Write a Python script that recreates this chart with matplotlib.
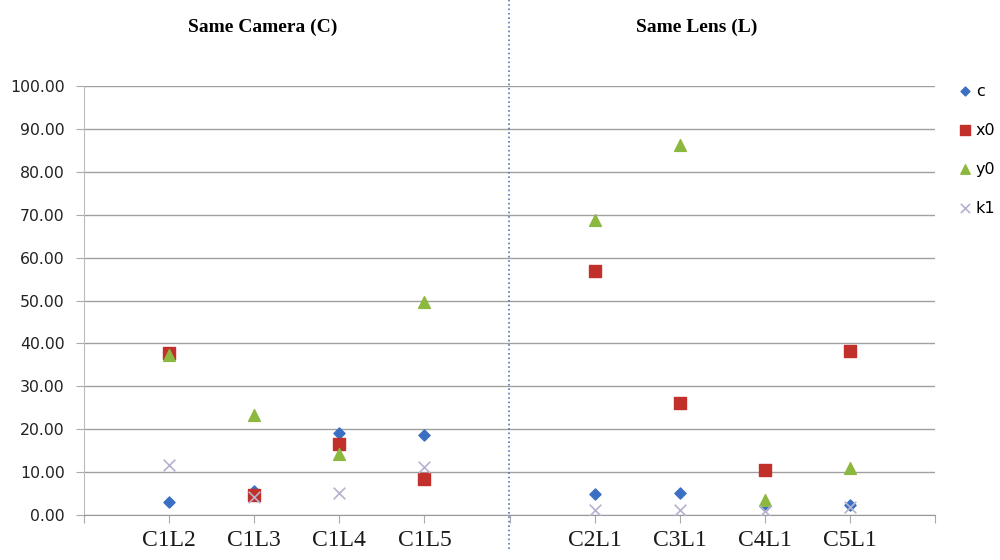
import numpy as np
import matplotlib.pyplot as plt
from matplotlib.lines import Line2D

# categories (two groups, gap slot in the middle)
cats_camera = ["C1L2", "C1L3", "C1L4", "C1L5"]
cats_lens = ["C2L1", "C3L1", "C4L1", "C5L1"]
categories = cats_camera + cats_lens
xpos = [1, 2, 3, 4, 6, 7, 8, 9]

# values
c_vals = [3.0, 5.7, 19.1, 18.6, 4.9, 5.1, 2.2, 2.3]
x0_vals = [37.7, 4.7, 16.6, 8.3, 57.0, 26.1, 10.5, 38.2]
y0_vals = [37.4, 23.2, 14.2, 49.7, 68.9, 86.2, 3.5, 11.0]
k1_vals = [11.7, 4.1, 5.1, 11.1, 1.2, 1.2, 1.0, 1.8]

yticks = np.arange(0, 101, 10)

fig = plt.figure(figsize=(10, 5.6), dpi=100)
ax = fig.add_axes([0.084, 0.0804, 0.851, 0.7657])

ax.scatter(xpos, c_vals, marker="D", s=32, color="#3A6FC4", label="c", zorder=3)
ax.scatter(xpos, x0_vals, marker="s", s=68, color="#C2302C", label="x0", zorder=3)
ax.scatter(xpos, y0_vals, marker="^", s=72, color="#8DB83F", label="y0", zorder=3)
ax.scatter(xpos, k1_vals, marker="x", s=70, color="#B4B2D0", linewidths=1.2,
           label="k1", zorder=3)

ax.set_xlim(0, 10)
ax.set_ylim(0, 100)
ax.set_yticks(yticks)
ax.set_yticklabels([f"{v:.2f}" for v in yticks], fontsize=11.3, color="#222222")
ax.set_xticks(range(0, 11))
lbls = [""] * 11
for p, name in zip(xpos, categories):
    lbls[p] = name
ax.set_xticklabels(lbls, fontsize=17, family="Liberation Serif", color="#1a1a1a")
ax.tick_params(axis="x", length=6, color="#aaaaaa", pad=5)
ax.tick_params(axis="y", length=6, color="#aaaaaa", pad=8)

ax.grid(axis="y", color="#A0A0A0", linewidth=1.0)
ax.set_axisbelow(True)
for side in ["top", "right"]:
    ax.spines[side].set_visible(False)
ax.spines["left"].set_color("#BBBBBB")
ax.spines["bottom"].set_color("#999999")

# group titles
fig.text(0.263, 0.952, "Same Camera (C)", ha="center", va="center",
         fontsize=14, fontweight="bold", family="Liberation Serif")
fig.text(0.697, 0.952, "Same Lens (L)", ha="center", va="center",
         fontsize=14, fontweight="bold", family="Liberation Serif")

# dotted separator between the two groups
sep_x = 0.084 + 0.851 * 5 / 10
fig.add_artist(Line2D([sep_x, sep_x], [0.02, 1.0], color="#4A78B8",
                      linestyle=":", linewidth=1.2))

fig.legend(loc="upper left", bbox_to_anchor=(0.952, 0.862), frameon=False,
           fontsize=11.5, labelspacing=1.5, handlelength=0.8, handletextpad=0.3,
           borderaxespad=0, markerscale=0.8)

fig.savefig("out.png", dpi=100)
